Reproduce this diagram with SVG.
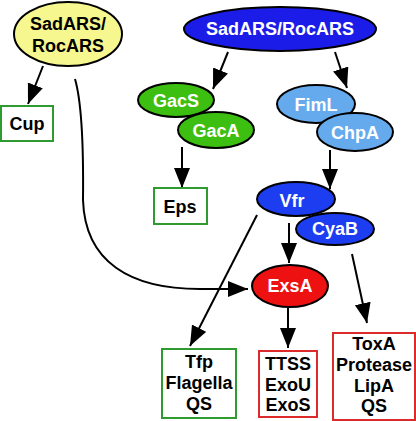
<svg xmlns="http://www.w3.org/2000/svg" width="416" height="421" viewBox="0 0 416 421">
<defs>
<marker id="ah" markerUnits="userSpaceOnUse" markerWidth="22" markerHeight="18" refX="20" refY="8" orient="auto">
<path d="M0,0 L20,8 L0,16 Z" fill="#000"/>
</marker>
<style>
text{font-family:"Liberation Sans",Arial,sans-serif;font-weight:bold;font-size:18px;text-anchor:middle}
.w{fill:#fff}
.k{fill:#000}
ellipse{stroke:#000;stroke-width:2}
.gb{fill:#fff;stroke:#2f9a2f;stroke-width:2}
.rb{fill:#fff;stroke:#dd2a2a;stroke-width:2}
.ar{stroke:#000;stroke-width:2;fill:none;marker-end:url(#ah)}
</style>
</defs>
<rect width="416" height="421" fill="#fff"/>
<g id="connectors">
<line class="ar" x1="43" y1="66" x2="28" y2="104"/>
<path class="ar" stroke-width="1.6" d="M75,79 Q84,110 83,200 C85,262 130,289 200,289 L248,289"/>
<line class="ar" x1="228" y1="52" x2="213" y2="89"/>
<line class="ar" x1="335" y1="52" x2="347" y2="88"/>
<line class="ar" x1="182" y1="147" x2="182" y2="188"/>
<line class="ar" x1="330" y1="150" x2="330" y2="189"/>
<line class="ar" x1="289" y1="223" x2="289" y2="263"/>
<line class="ar" x1="257" y1="215" x2="190" y2="346"/>
<line class="ar" x1="288" y1="308" x2="288" y2="348"/>
<line class="ar" x1="352" y1="254" x2="367" y2="323"/>
</g>
<g id="sadars-left">
<ellipse cx="68" cy="34" rx="54" ry="32" fill="#f7f78f"/>
<text class="k" x="68" y="30">SadARS/</text>
<text class="k" x="68" y="52">RocARS</text>
</g>
<g id="cup">
<rect class="gb" x="1" y="106" width="52" height="35"/>
<text class="k" x="27" y="130">Cup</text>
</g>
<g id="sadars-right">
<ellipse cx="280" cy="29" rx="96" ry="22" fill="#1c1ce8"/>
<text class="w" x="280" y="35">SadARS/RocARS</text>
</g>
<g id="gacs">
<ellipse cx="176" cy="100" rx="38" ry="17" fill="#3cbf10"/>
<text class="w" x="176" y="107">GacS</text>
</g>
<g id="gaca">
<ellipse cx="216" cy="130" rx="38" ry="18" fill="#3cbf10"/>
<text class="w" x="216" y="137">GacA</text>
</g>
<g id="eps">
<rect class="gb" x="154" y="188" width="53" height="36"/>
<text class="k" x="180" y="213">Eps</text>
</g>
<g id="fiml">
<ellipse cx="316" cy="104" rx="39" ry="19" fill="#66aaee"/>
<text class="w" x="316" y="111">FimL</text>
</g>
<g id="chpa">
<ellipse cx="355" cy="132" rx="38" ry="19" fill="#66aaee"/>
<text class="w" x="355" y="139">ChpA</text>
</g>
<g id="vfr">
<ellipse cx="296" cy="199" rx="39" ry="17" fill="#1c3ef0"/>
<text class="w" x="292" y="207">Vfr</text>
</g>
<g id="cyab">
<ellipse cx="335" cy="229" rx="39" ry="16" fill="#1c3ef0"/>
<text class="w" x="335" y="235">CyaB</text>
</g>
<g id="exsa">
<ellipse cx="290" cy="286" rx="38" ry="21" fill="#ee1111"/>
<text class="w" x="290" y="292">ExsA</text>
</g>
<g id="tfp">
<rect class="gb" x="162" y="349" width="74" height="69"/>
<text class="k" x="199" y="368">Tfp</text>
<text class="k" x="199" y="389">Flagella</text>
<text class="k" x="199" y="410">QS</text>
</g>
<g id="ttss">
<rect class="rb" x="259" y="351" width="58" height="66"/>
<text class="k" x="288" y="370">TTSS</text>
<text class="k" x="288" y="391">ExoU</text>
<text class="k" x="288" y="411">ExoS</text>
</g>
<g id="toxa">
<rect class="rb" x="333" y="333" width="82" height="87"/>
<text class="k" x="374" y="350">ToxA</text>
<text class="k" x="374" y="371">Protease</text>
<text class="k" x="374" y="392">LipA</text>
<text class="k" x="374" y="412">QS</text>
</g>
</svg>
